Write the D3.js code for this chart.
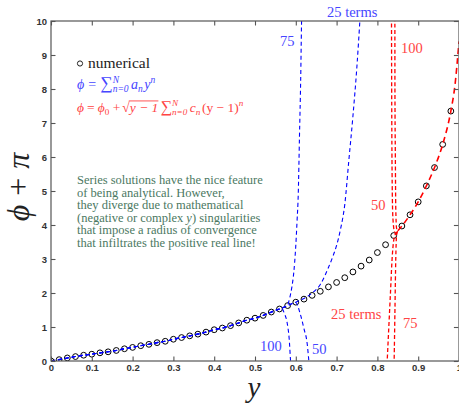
<!DOCTYPE html>
<html>
<head>
<meta charset="utf-8">
<script src="https://cdn.jsdelivr.net/npm/d3@7"></script>
<style>
body { margin: 0; background: #fff; }
</style>
</head>
<body>
<div id="chart"></div>
<script>
// numerical solution (circles)
var numX = [0, 0.02, 0.04, 0.06, 0.08, 0.1, 0.12, 0.14, 0.16, 0.18,
            0.2, 0.22, 0.24, 0.26, 0.28, 0.3, 0.32, 0.34, 0.36, 0.38,
            0.4, 0.42, 0.44, 0.46, 0.48, 0.5, 0.52, 0.54, 0.56, 0.58,
            0.6, 0.62, 0.64, 0.66, 0.68, 0.7, 0.72, 0.74, 0.76, 0.78,
            0.8, 0.82, 0.84, 0.86, 0.88, 0.9, 0.92, 0.94, 0.96, 0.98];
var numV = [0, 0.04, 0.09, 0.13, 0.17, 0.2, 0.24, 0.27, 0.31, 0.36,
            0.4, 0.45, 0.49, 0.54, 0.58, 0.64, 0.69, 0.74, 0.79, 0.85,
            0.92, 0.97, 1.04, 1.12, 1.2, 1.26, 1.34, 1.44, 1.53, 1.63,
            1.73, 1.82, 1.93, 2.05, 2.18, 2.31, 2.45, 2.62, 2.79, 2.97,
            3.19, 3.42, 3.69, 3.97, 4.3, 4.68, 5.15, 5.69, 6.37, 7.35];

// series about y=0 (blue): where each partial sum leaves the numerical curve
var blue25X = [0.58, 0.6, 0.62, 0.64, 0.66, 0.68, 0.69, 0.7, 0.71, 0.72, 0.73, 0.74, 0.75, 0.757, 0.762];
var blue25V = [1.63, 1.73, 1.84, 2.0, 2.25, 2.75, 3.05, 3.4, 3.9, 4.6, 5.9, 7.2, 8.7, 10, 11];
var blue50X = [0.58, 0.6, 0.61, 0.62, 0.628, 0.632, 0.636];
var blue50V = [1.63, 1.72, 1.42, 0.95, 0.5, 0, -0.5];
var blue75X = [0.57, 0.58, 0.585, 0.59, 0.595, 0.6, 0.603, 0.606, 0.609, 0.612, 0.614, 0.616];
var blue75V = [1.57, 1.66, 1.85, 2.15, 2.6, 3.4, 4.1, 4.9, 6.6, 8.3, 9.9, 11];
var blue100X = [0.56, 0.565, 0.572, 0.579, 0.584, 0.587, 0.59];
var blue100V = [1.53, 1.55, 1.4, 1.11, 0.62, 0.03, -0.5];

// series about y=1 (red): left end of each partial sum, up to y=0.85
var red25X = [0.822, 0.824, 0.828, 0.832, 0.836, 0.84, 0.845, 0.85];
var red25V = [-0.5, 0, 1.0, 2.0, 3.0, 3.55, 3.75, 3.83];
var red50X = [0.8345, 0.835, 0.836, 0.838, 0.842, 0.846, 0.85];
var red50V = [10.5, 8, 5.5, 4.2, 3.8, 3.75, 3.83];
var red75X = [0.84, 0.841, 0.843, 0.845, 0.847, 0.85];
var red75V = [-0.5, 0, 1.5, 3.0, 3.7, 3.83];
var red100X = [0.8428, 0.843, 0.844, 0.845, 0.847, 0.85];
var red100V = [10.5, 8, 6, 4.5, 3.9, 3.83];
// converged part shared by all red sums beyond the numerical points
var redEndX = [0.99, 1.0];
var redEndV = [8.1, 9.4];

var xTicks = [0, 0.1, 0.2, 0.3, 0.4, 0.5, 0.6, 0.7, 0.8, 0.9, 1];
var yTicks = [0, 1, 2, 3, 4, 5, 6, 7, 8, 9, 10];

var W = 459, H = 404;
var pL = 51, pR = 459, pT = 21, pB = 361;

var x = d3.scaleLinear().domain([0, 1]).range([pL, pR]);
var y = d3.scaleLinear().domain([0, 10]).range([pB, pT]);

var svg = d3.select("#chart").append("svg")
    .attr("width", W)
    .attr("height", H);

var blue = "#0000ff", red = "#ff0000";
var blueText = "#4646ff", redText = "#ff4444";
var serif = "'Liberation Serif', 'DejaVu Serif', serif";

function pts(xs, vs) {
    return xs.map(function(d, i) { return [d, vs[i]]; });
}
var numPts = pts(numX, numV);

// blue: numerical points before the tail, then the tail
function bluePts(xs, vs) {
    return numPts.filter(function(p) { return p[0] < xs[0]; }).concat(pts(xs, vs));
}

svg.append("clipPath").attr("id", "clip")
    .append("rect")
    .attr("x", pL).attr("y", pT)
    .attr("width", pR - pL).attr("height", pB - pT);

var plot = svg.append("g").attr("clip-path", "url(#clip)");

// numerical circles
plot.selectAll("circle.num")
    .data(numPts)
    .enter().append("circle")
    .attr("class", "num")
    .attr("cx", function(d) { return x(d[0]); })
    .attr("cy", function(d) { return y(d[1]); })
    .attr("r", 2.9)
    .style("fill", "none")
    .style("stroke", "#000")
    .style("stroke-width", 1);

var line = d3.line()
    .curve(d3.curveMonotoneX)
    .x(function(d) { return x(d[0]); })
    .y(function(d) { return y(d[1]); });

var blueSeries = [
    bluePts(blue25X, blue25V),
    bluePts(blue50X, blue50V),
    bluePts(blue75X, blue75V),
    bluePts(blue100X, blue100V)
];
var redTails = [
    pts(red25X, red25V),
    pts(red50X, red50V),
    pts(red75X, red75V),
    pts(red100X, red100V)
];
var redJoin = red25X[red25X.length - 1];
var redCommon = [[redJoin, red25V[red25V.length - 1]]]
    .concat(numPts.filter(function(p) { return p[0] > redJoin; }))
    .concat(pts(redEndX, redEndV));

plot.selectAll("path.blue")
    .data(blueSeries)
    .enter().append("path")
    .attr("class", "blue")
    .attr("d", line)
    .style("fill", "none")
    .style("stroke", blue)
    .style("stroke-width", 1.1)
    .style("stroke-dasharray", "4,3");

plot.selectAll("path.red")
    .data(redTails)
    .enter().append("path")
    .attr("class", "red")
    .attr("d", line)
    .style("fill", "none")
    .style("stroke", red)
    .style("stroke-width", 1.3)
    .style("stroke-dasharray", "4,2.5");

plot.append("path")
    .datum(redCommon)
    .attr("d", line)
    .style("fill", "none")
    .style("stroke", red)
    .style("stroke-width", 1.6)
    .style("stroke-dasharray", "6,4");

// axes, ticks pointing inward
var xFmt = function(d) { return (d === 0 || d === 1) ? String(d) : d3.format(".1f")(d); };

svg.append("g")
    .attr("transform", "translate(0," + pB + ")")
    .call(d3.axisBottom(x).tickValues(xTicks).tickFormat(xFmt).tickSize(-4.5).tickPadding(3));
svg.append("g")
    .attr("transform", "translate(0," + pT + ")")
    .call(d3.axisTop(x).tickValues(xTicks).tickFormat("").tickSize(-4.5));
svg.append("g")
    .attr("transform", "translate(" + pL + ",0)")
    .call(d3.axisLeft(y).tickValues(yTicks).tickFormat(d3.format("d")).tickSize(-4.5).tickPadding(4));
svg.append("g")
    .attr("transform", "translate(" + (pR - 0.6) + ",0)")
    .call(d3.axisRight(y).tickValues(yTicks).tickFormat("").tickSize(-4.5));

svg.selectAll(".domain").remove();
svg.selectAll(".tick line").style("stroke", "#555").style("stroke-width", 1.1);
svg.selectAll(".tick text")
    .style("font-family", "'Liberation Sans', Arial, sans-serif")
    .style("font-weight", "bold")
    .style("font-size", "9.5px")
    .style("fill", "#333");

svg.append("rect")
    .attr("x", pL).attr("y", pT)
    .attr("width", pR - pL).attr("height", pB - pT)
    .style("fill", "none")
    .style("stroke", "#555")
    .style("stroke-width", 1.2);

// axis titles
svg.append("text")
    .attr("transform", "translate(29,187) rotate(-90)")
    .attr("text-anchor", "middle")
    .style("font-family", serif)
    .style("font-size", "32px")
    .style("fill", "#222")
    .call(function(t) {
        t.append("tspan").style("font-style", "italic").text("ϕ");
        t.append("tspan").attr("dx", 9).text("+");
        t.append("tspan").attr("dx", 9).style("font-style", "italic").text("π");
    });

svg.append("text")
    .attr("x", 254).attr("y", 397)
    .attr("text-anchor", "middle")
    .style("font-family", serif)
    .style("font-style", "italic")
    .style("font-size", "29px")
    .style("fill", "#222")
    .text("y");

// legend
svg.append("circle")
    .attr("cx", 80).attr("cy", 63.5).attr("r", 2.6)
    .style("fill", "none").style("stroke", "#222");
svg.append("text")
    .attr("x", 88).attr("y", 68)
    .style("font-family", serif)
    .style("font-size", "15.5px")
    .style("fill", "#222")
    .text("numerical");

// inline math: pieces laid out left to right
function mathText(x0, y0, size, color, pieces) {
    var g = svg.append("g").style("fill", color).style("font-family", serif);
    var cx = x0;
    pieces.forEach(function(p) {
        if (p.sup !== undefined || p.sub !== undefined) {
            var w = 0;
            if (p.sup !== undefined) {
                var a = g.append("text").attr("x", cx).attr("y", y0 - size * 0.42)
                    .style("font-size", (size * 0.68) + "px")
                    .style("font-style", p.it ? "italic" : "normal").text(p.sup);
                w = Math.max(w, a.node().getComputedTextLength());
            }
            if (p.sub !== undefined) {
                var b = g.append("text").attr("x", cx).attr("y", y0 + size * 0.22)
                    .style("font-size", (size * 0.68) + "px")
                    .style("font-style", p.it ? "italic" : "normal").text(p.sub);
                w = Math.max(w, b.node().getComputedTextLength());
            }
            cx += w + 1.5;
            return;
        }
        cx += p.gap || 0;
        var t = g.append("text").attr("x", cx).attr("y", y0)
            .style("font-size", (size * (p.s || 1)) + "px")
            .style("font-style", p.it ? "italic" : "normal")
            .text(p.t);
        var tw = t.node().getComputedTextLength();
        if (p.over) {
            g.append("line")
                .attr("x1", cx - 1).attr("x2", cx + tw)
                .attr("y1", y0 - size * 0.82).attr("y2", y0 - size * 0.82)
                .style("stroke", color).style("stroke-width", 0.9);
        }
        cx += tw;
    });
}

mathText(77, 89, 14, blueText, [
    {t: "ϕ", it: true},
    {t: "=", gap: 4},
    {t: "∑", gap: 4, s: 1.25},
    {sup: "N", sub: "n=0", it: true},
    {t: "a", it: true, gap: 1},
    {sub: "n", it: true},
    {t: "y", it: true},
    {sup: "n", it: true}
]);

mathText(77, 112, 13.5, redText, [
    {t: "ϕ", it: true},
    {t: "=", gap: 3},
    {t: "ϕ", it: true, gap: 3},
    {sub: "0"},
    {t: "+", gap: 2},
    {t: "√", gap: 2},
    {t: "y − 1", it: true, over: true},
    {t: "∑", gap: 2, s: 1.2},
    {sup: "N", sub: "n=0", it: true},
    {t: "c", it: true, gap: 1},
    {sub: "n", it: true},
    {t: "(y − 1)", it: false},
    {sup: "n", it: true}
]);

// annotation (second entry of each pair is italic)
var note = [
    ["Series solutions have the nice feature"],
    ["of being analytical. However,"],
    ["they diverge due to mathematical"],
    ["(negative or complex ", "y", ") singularities"],
    ["that impose a radius of convergence"],
    ["that infiltrates the positive real line!"]
];
svg.append("g").selectAll("text")
    .data(note)
    .enter().append("text")
    .attr("x", 77)
    .attr("y", function(d, i) { return 184 + i * 12.6; })
    .style("font-family", serif)
    .style("font-size", "12.5px")
    .style("fill", "#4b7862")
    .each(function(d) {
        var t = d3.select(this);
        d.forEach(function(s, j) {
            t.append("tspan").style("font-style", j % 2 ? "italic" : "normal").text(s);
        });
    });

// curve labels
var labels = [
    {t: "25 terms", x: 327, y: 17, c: blueText},
    {t: "75", x: 280, y: 46, c: blueText},
    {t: "100", x: 260, y: 351, c: blueText},
    {t: "50", x: 312, y: 354, c: blueText},
    {t: "100", x: 401, y: 53, c: redText},
    {t: "50", x: 371, y: 210, c: redText},
    {t: "25 terms", x: 331, y: 319, c: redText},
    {t: "75", x: 403, y: 328, c: redText}
];
svg.append("g").selectAll("text")
    .data(labels)
    .enter().append("text")
    .attr("x", function(d) { return d.x; })
    .attr("y", function(d) { return d.y; })
    .style("font-family", serif)
    .style("font-size", "14.5px")
    .style("fill", function(d) { return d.c; })
    .text(function(d) { return d.t; });
</script>
</body>
</html>
